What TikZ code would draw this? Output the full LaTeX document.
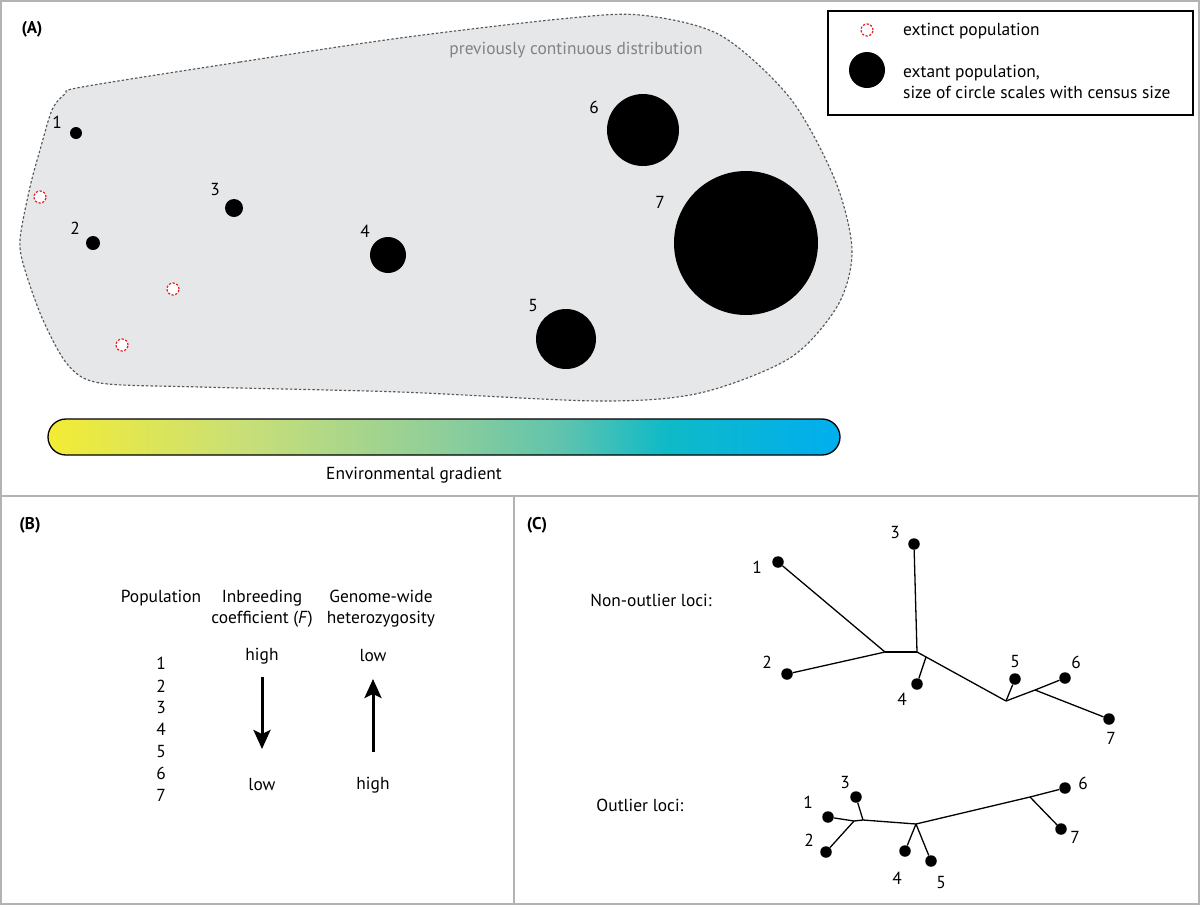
\documentclass[tikz,border=0pt]{standalone}
\usepackage{fontspec}
\setmainfont{PT Sans}
\usetikzlibrary{arrows.meta}
\definecolor{blobfill}{HTML}{E6E7E8}
\definecolor{blobline}{HTML}{58595B}
\definecolor{framegray}{HTML}{B1B3B6}
\definecolor{extred}{HTML}{ED1C24}
\definecolor{txtgray}{HTML}{808285}
\definecolor{ga}{HTML}{F3EC35}
\definecolor{gb}{HTML}{C8DF78}
\definecolor{gc}{HTML}{8ECE9A}
\definecolor{gd}{HTML}{5FC3AE}
\definecolor{ge}{HTML}{0FBAC7}
\definecolor{gf}{HTML}{00AEEF}
\pgfdeclarehorizontalshading{envgrad}{100bp}{color(0bp)=(ga); color(25bp)=(ga); color(37.5bp)=(gb); color(50bp)=(gc); color(57.5bp)=(gd); color(64bp)=(ge); color(75bp)=(gf); color(100bp)=(gf)}
\tikzset{
  txt/.style={font=\fontsize{17.4}{21}\selectfont, inner sep=0pt},
  lbl/.style={font=\fontsize{17}{21}\selectfont\bfseries, inner sep=0pt},
  pop/.style={circle, fill=black, inner sep=0pt, minimum size=#1},
  extinct/.style={circle, draw=extred, fill=white, line width=1.2pt, dash pattern=on 2.2pt off 1.6pt, inner sep=0pt, minimum size=12},
  leaf/.style={circle, fill=black, inner sep=0pt, minimum size=11.5},
  branch/.style={line width=1.3pt, black},
  bigarrow/.style={line width=3pt, -{Stealth[length=19pt, width=17pt, inset=4pt]}},
  frame/.style={framegray, line width=2pt}
}
\begin{document}
\begin{tikzpicture}[x=1pt, y=-1pt]
\useasboundingbox (0,0) rectangle (1200,906);
\fill[white] (0,0) rectangle (1200,906);
% frames
\draw[frame] (1,1) rectangle (1199,904);
\draw[frame] (1,496) -- (1199,496);
\draw[frame] (514,496) -- (514,904);

% ---------- Panel A ----------
\node[lbl] (labA) at (32,29) {(A)};
\filldraw[fill=blobfill, draw=blobline, line width=1.15pt, dash pattern=on 2.5pt off 2pt]
  plot[smooth cycle, tension=0.5] coordinates {
  (82,87) (240,62) (400,38) (560,19) (640,15) (720,35) (790,98) (835,180)
  (852,250) (838,305) (790,358) (700,393) (600,401) (400,392) (200,387)
  (100,383) (68,365) (43,320) (25,270) (20,240) (30,187) (40,150) (52,110) (65,94)};
\node[txt, text=txtgray] (prevtxt) at (576,50) {previously continuous distribution};

\node[pop=12] (p1) at (76,133) {};
\node[pop=14] (p2) at (93,243) {};
\node[pop=18] (p3) at (234,208) {};
\node[pop=36] (p4) at (388,255) {};
\node[pop=60] (p5) at (566,339) {};
\node[pop=72] (p6) at (643,130) {};
\node[pop=144] (p7) at (746,243) {};
\node[txt] (l1) at (57,122) {1};
\node[txt] (l2) at (75,228) {2};
\node[txt] (l3) at (215,190) {3};
\node[txt] (l4) at (365,231) {4};
\node[txt] (l5) at (533,306) {5};
\node[txt] (l6) at (594,107) {6};
\node[txt] (l7) at (660,202) {7};

\node[extinct] (x1) at (40,197) {};
\node[extinct] (x2) at (173,289) {};
\node[extinct] (x3) at (122,345) {};

% legend
\node[draw=black, line width=1.5pt, minimum width=365, minimum height=104, inner sep=0pt, anchor=north west] (legend) at (827,10) {};
\node[extinct] (legext) at (867,30) {};
\node[pop=36] (legpop) at (867,70) {};
\node[txt, anchor=west] (legt1) at (903,31) {extinct population};
\node[txt, anchor=west, align=left] (legt2) at (903,82) {extant population,\\size of circle scales with census size};

% gradient bar
\shadedraw[shading=envgrad, draw=black, line width=1.3pt, rounded corners=18] (48,419) rectangle (840,455);
\node[txt] (gradtxt) at (414,475) {Environmental gradient};

% ---------- Panel B ----------
\node[lbl] (labB) at (30,525) {(B)};
\node[txt] (hpop) at (161,598) {Population};
\node[txt, align=center] (hinb) at (262,609) {Inbreeding\\coefficient (\textit{F})};
\node[txt, align=center] (hhet) at (381,609) {Genome-wide\\heterozygosity};
\node[txt] (b1) at (161,663) {1};
\node[txt] (b2) at (161,686) {2};
\node[txt] (b3) at (161,708) {3};
\node[txt] (b4) at (161,729) {4};
\node[txt] (b5) at (161,752) {5};
\node[txt] (b6) at (161,773) {6};
\node[txt] (b7) at (161,795) {7};
\node[txt] (fhigh) at (262,656) {high};
\node[txt] (flow) at (262,785) {low};
\node[txt] (hlow) at (373,656) {low};
\node[txt] (hhigh) at (373,785) {high};
\coordinate (fa) at (262,677);
\coordinate (fb) at (262,749);
\coordinate (ha) at (373,752);
\coordinate (hb) at (373,679);
\draw[bigarrow] (fa) -- (fb);
\draw[bigarrow] (ha) -- (hb);

% ---------- Panel C ----------
\node[lbl] (labC) at (537,525) {(C)};
\node[txt] (nonout) at (651,600) {Non-outlier loci:};
\node[txt] (outl) at (640,805) {Outlier loci:};

% tree 1
\coordinate (ta) at (885,652);
\coordinate (tb) at (917,652);
\coordinate (tc) at (1006,701);
\coordinate (td) at (1035,690);
\coordinate (te) at (926,657);
\node[leaf] (n1) at (778,562) {};
\node[leaf] (n2) at (787,674) {};
\node[leaf] (n3) at (914,544) {};
\node[leaf] (n4) at (917,684) {};
\node[leaf] (n5) at (1015,679) {};
\node[leaf] (n6) at (1065,678) {};
\node[leaf] (n7) at (1109,719) {};
\draw[branch] (n1) -- (ta);
\draw[branch] (n2) -- (ta);
\draw[branch] (ta) -- (tb);
\draw[branch] (n3) -- (tb);
\draw[branch] (tb) -- (tc);
\draw[branch] (te) -- (n4);
\draw[branch] (tc) -- (n5);
\draw[branch] (tc) -- (td) -- (n6);
\draw[branch] (td) -- (n7);
\node[txt] (t1) at (757,567) {1};
\node[txt] (t2) at (767,662) {2};
\node[txt] (t3) at (895,533) {3};
\node[txt] (t4) at (902,699) {4};
\node[txt] (t5) at (1015,662) {5};
\node[txt] (t6) at (1076,662) {6};
\node[txt] (t7) at (1111,738) {7};

% tree 2
\coordinate (j2) at (854,821);
\coordinate (j3) at (863,820);
\coordinate (je) at (916,824);
\coordinate (jf) at (1030,797);
\node[leaf] (m1) at (828,817) {};
\node[leaf] (m2) at (826,852) {};
\node[leaf] (m3) at (856,797) {};
\node[leaf] (m4) at (905,851) {};
\node[leaf] (m5) at (931,861) {};
\node[leaf] (m6) at (1065,788) {};
\node[leaf] (m7) at (1061,829) {};
\draw[branch] (m1) -- (j2) -- (j3) -- (je);
\draw[branch] (m2) -- (j2);
\draw[branch] (m3) -- (j3);
\draw[branch] (je) -- (m4);
\draw[branch] (je) -- (m5);
\draw[branch] (je) -- (jf) -- (m6);
\draw[branch] (jf) -- (m7);
\node[txt] (s1) at (808,802) {1};
\node[txt] (s2) at (809,840) {2};
\node[txt] (s3) at (845,783) {3};
\node[txt] (s4) at (897,878) {4};
\node[txt] (s5) at (941,883) {5};
\node[txt] (s6) at (1083,783) {6};
\node[txt] (s7) at (1075,837) {7};
\end{tikzpicture}
\end{document}
